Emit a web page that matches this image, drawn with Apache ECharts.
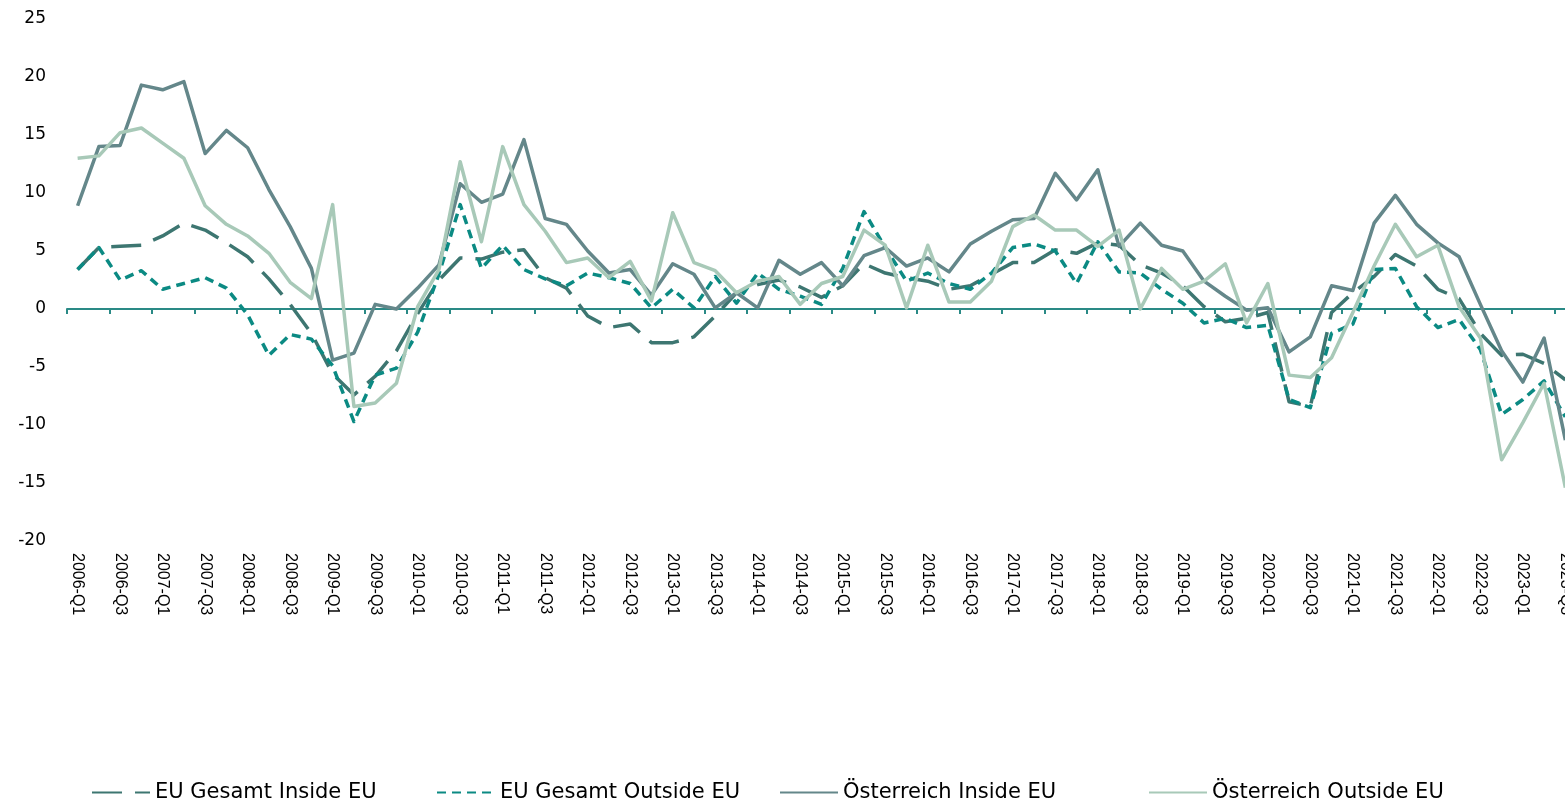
<!DOCTYPE html>
<html>
<head>
<meta charset="utf-8">
<script src="https://cdn.jsdelivr.net/npm/echarts@6/dist/echarts.min.js"></script>
<style>
html,body{margin:0;padding:0;background:#fff;overflow:hidden;width:1565px;height:798px;}
#chart{width:1580px;height:798px;}
</style>
</head>
<body>
<div id="chart"></div>
<script>
// Categories: 2006-Q1 .. 2023-Q3
const categories = [];
for (let y = 2006; y <= 2023; y++) {
  for (let q = 1; q <= 4; q++) {
    if (y === 2023 && q > 3) break;
    categories.push(y + '-Q' + q);
  }
}

const seriesNames = ['EU Gesamt Inside EU', 'EU Gesamt Outside EU', 'Österreich Inside EU', 'Österreich Outside EU'];

const euInside = [3.4, 5.3, 5.4, 5.5, 6.3, 7.4, 6.8, 5.7, 4.5, 2.6, 0.4, -2.1, -5.6, -7.4, -5.8, -3.6, -0.4, 2.5, 4.4, 4.3,
  4.9, 5.1, 2.7, 1.8, -0.6, -1.6, -1.3, -2.9, -2.9, -2.4, -0.6, 1.4, 2.1, 2.5, 1.9, 1.0, 2.0, 3.9, 3.1, 2.7,
  2.4, 1.7, 2.0, 3.0, 4.0, 4.0, 5.1, 4.8, 5.7, 5.5, 3.8, 3.1, 2.0, 0.2, -1.1, -0.8, -0.3, -8.0, -8.4, -0.3,
  1.4, 2.8, 4.7, 3.7, 1.7, 0.9, -2.1, -4.0, -3.9, -4.7, -6.1];

const euOutside = [3.4, 5.3, 2.5, 3.3, 1.7, 2.2, 2.7, 1.8, -0.5, -4.0, -2.2, -2.6, -4.9, -9.7, -5.7, -5.1, -2.0, 3.0, 9.0, 3.5,
  5.5, 3.4, 2.6, 2.0, 3.1, 2.7, 2.2, 0.1, 1.7, 0.1, 2.8, 0.5, 3.1, 1.7, 1.1, 0.4, 3.5, 8.4, 5.3, 2.4,
  3.1, 2.2, 1.7, 3.1, 5.3, 5.6, 5.0, 2.2, 5.8, 3.2, 3.1, 1.7, 0.5, -1.2, -0.8, -1.6, -1.4, -7.8, -8.5, -2.1,
  -1.3, 3.4, 3.5, 0.2, -1.6, -0.9, -3.5, -9.1, -7.8, -6.2, -9.3];

const atInside = [8.9, 14.0, 14.1, 19.3, 18.9, 19.6, 13.4, 15.4, 13.9, 10.3, 7.1, 3.5, -4.4, -3.8, 0.4, 0.0, 1.8, 3.8, 10.8, 9.2,
  9.9, 14.6, 7.8, 7.3, 5.0, 3.1, 3.4, 1.2, 3.9, 3.0, 0.1, 1.4, 0.1, 4.2, 3.0, 4.0, 2.0, 4.6, 5.3, 3.7,
  4.4, 3.2, 5.6, 6.7, 7.7, 7.8, 11.7, 9.4, 12.0, 5.4, 7.4, 5.5, 5.0, 2.4, 1.1, -0.1, 0.1, -3.7, -2.4, 2.0,
  1.6, 7.4, 9.8, 7.3, 5.7, 4.5, 0.4, -3.6, -6.3, -2.5, -11.3];

const atOutside = [13.0, 13.2, 15.2, 15.6, 14.3, 13.0, 8.9, 7.3, 6.3, 4.8, 2.3, 0.9, 9.0, -8.4, -8.1, -6.4, 0.2, 3.4, 12.7, 5.8,
  14.0, 9.0, 6.7, 4.0, 4.4, 2.7, 4.1, 0.7, 8.3, 4.0, 3.3, 1.4, 2.4, 2.8, 0.4, 2.2, 2.8, 6.8, 5.5, 0.1,
  5.5, 0.6, 0.6, 2.4, 7.1, 8.1, 6.8, 6.8, 5.4, 6.8, 0.0, 3.5, 1.7, 2.4, 3.9, -1.2, 2.2, -5.7, -5.9, -4.2,
  -0.3, 3.7, 7.3, 4.5, 5.5, 0.2, -2.5, -13.0, -9.8, -6.4, -15.4];

const yTicks = { min: -20, max: 25, interval: 5 };

const colors = ['#3d7671', '#0b8a83', '#64878a', '#a8c9b8'];
const lineTypes = [[30, 13], [9, 6], 'solid', 'solid'];
const legendLefts = [86, 431, 774, 1143];
const values = [euInside, euOutside, atInside, atOutside];

const chart = echarts.init(document.getElementById('chart'), null, { renderer: 'canvas' });

const legends = seriesNames.map((n, i) => ({
  data: [n],
  left: legendLefts[i],
  top: 777,
  itemWidth: 58,
  itemHeight: 22,
  itemGap: 0,
  itemStyle: { opacity: 0 },
  lineStyle: { opacity: 1 },
  textStyle: { fontFamily: 'DejaVu Sans', fontSize: 21, color: '#000' }
}));

const option = {
  animation: false,
  backgroundColor: '#fff',
  legend: legends,
  grid: { left: 67, top: 19, right: 4, height: 522, containLabel: false },
  xAxis: [
    {
      type: 'category',
      data: categories,
      boundaryGap: true,
      axisLine: { show: true, onZero: true, lineStyle: { color: '#2a8a86', width: 2 } },
      axisTick: { show: true, interval: 1, length: 5, lineStyle: { color: '#2a8a86', width: 2 } },
      axisLabel: { show: false },
      splitLine: { show: false }
    },
    {
      type: 'category',
      data: categories,
      boundaryGap: true,
      position: 'bottom',
      axisLine: { show: false, onZero: false },
      axisTick: { show: false },
      axisLabel: {
        show: true, interval: 1, rotate: -90, margin: 12,
        fontFamily: 'Liberation Sans', fontSize: 16, color: '#000'
      },
      splitLine: { show: false }
    }
  ],
  yAxis: {
    type: 'value',
    min: yTicks.min, max: yTicks.max, interval: yTicks.interval,
    axisLine: { show: false },
    axisTick: { show: false },
    splitLine: { show: false },
    axisLabel: { fontFamily: 'DejaVu Sans', fontSize: 17, color: '#000', margin: 21 }
  },
  series: seriesNames.map((n, i) => ({
    name: n,
    type: 'line',
    xAxisIndex: 0,
    data: values[i],
    symbol: 'none',
    showSymbol: false,
    color: colors[i],
    lineStyle: { color: colors[i], width: 3.5, type: lineTypes[i], cap: 'butt', join: 'round' }
  }))
};

chart.setOption(option);
</script>
</body>
</html>
